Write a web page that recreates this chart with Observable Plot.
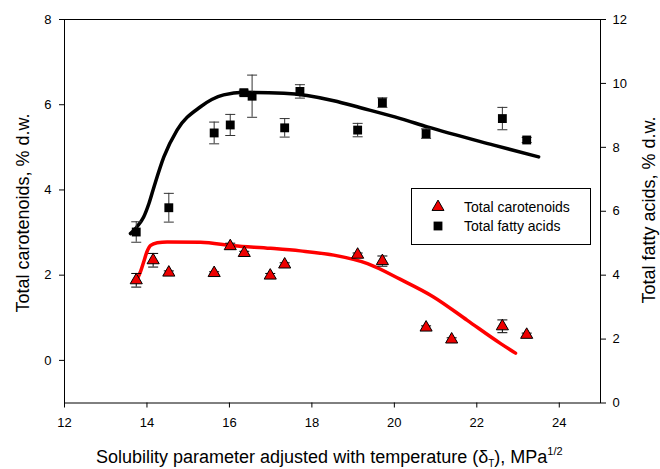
<!DOCTYPE html>
<html><head><meta charset="utf-8">
<script src="https://cdn.jsdelivr.net/npm/d3@7"></script>
<script src="https://cdn.jsdelivr.net/npm/@observablehq/plot@0.6"></script>
<style>body{margin:0;background:#fff} #chart{position:relative;width:660px;height:469px}</style>
</head><body><div id="chart"></div>
<script>
// ---- data ----
const xTicks = [12, 14, 16, 18, 20, 22, 24];
const leftTicks = [0, 2, 4, 6, 8];
const rightTicks = [0, 2, 4, 6, 8, 10, 12];

// Total carotenoids (% d.w., left axis)
const carotX   = [13.74, 14.15, 14.53, 15.63, 16.02, 16.36, 16.99, 17.34, 19.11, 19.71, 20.77, 21.39, 22.62, 23.21];
const carotY   = [1.88, 2.35, 2.06, 2.05, 2.68, 2.52, 1.99, 2.25, 2.48, 2.33, 0.77, 0.49, 0.80, 0.60];
const carotErr = [0.16, 0.16, 0.04, 0.03, 0.07, 0.04, 0.05, 0.04, 0.04, 0.12, 0.04, 0.04, 0.15, 0.04];

// Total fatty acids (% d.w., right axis)
const fattyX   = [13.74, 14.53, 15.63, 16.02, 16.35, 16.55, 17.34, 17.71, 19.11, 19.71, 20.77, 22.62, 23.21];
const fattyY   = [5.35, 6.11, 8.45, 8.70, 9.71, 9.60, 8.61, 9.75, 8.54, 9.40, 8.43, 8.90, 8.23];
const fattyErr = [0.32, 0.45, 0.34, 0.33, 0.08, 0.66, 0.29, 0.21, 0.21, 0.15, 0.15, 0.35, 0.08];

// Fitted curves
const redCurveX = [13.75, 13.85, 13.92, 14.0, 14.09, 14.25, 14.49, 15.3, 16.1, 17.0, 17.72, 18.53, 19.35, 20.15, 20.95, 21.77, 22.57, 22.94];
const redCurveY = [1.88, 2.10, 2.31, 2.55, 2.70, 2.76, 2.78, 2.77, 2.69, 2.63, 2.57, 2.47, 2.27, 1.90, 1.49, 0.94, 0.40, 0.17];
const blackCurveX = [13.60, 13.75, 13.92, 14.05, 14.17, 14.41, 14.73, 15.30, 15.86, 16.35, 17.32, 18.53, 19.18, 20.15, 20.80, 22.41, 23.50];
const blackCurveY = [5.30, 5.50, 5.82, 6.25, 6.76, 7.70, 8.54, 9.27, 9.64, 9.72, 9.69, 9.46, 9.24, 8.90, 8.64, 8.07, 7.70];

const seriesNames = ["Total carotenoids", "Total fatty acids"];

// right axis [0,12] maps onto left axis [-1,8]
const toLeft = r => r * 0.75 - 1;
const fromLeft = l => Math.round((l + 1) / 0.75);

const carot = carotX.map((x, i) => ({x, y: carotY[i], lo: carotY[i] - carotErr[i], hi: carotY[i] + carotErr[i]}));
const fatty = fattyX.map((x, i) => ({x, y: toLeft(fattyY[i]), lo: toLeft(fattyY[i] - fattyErr[i]), hi: toLeft(fattyY[i] + fattyErr[i])}));
const redCurve = redCurveX.map((x, i) => ({x, y: redCurveY[i]}));
const blackCurve = blackCurveX.map((x, i) => ({x, y: toLeft(blackCurveY[i])}));

const cap = {draw(ctx) { ctx.moveTo(-5, 0); ctx.lineTo(5, 0); }};
const errStroke = "#333";

const svg = Plot.plot({
  width: 660, height: 469,
  marginLeft: 64, marginRight: 60, marginTop: 19, marginBottom: 66.5,
  style: {fontFamily: "'Liberation Sans', Arial, sans-serif", fontSize: "13px", background: "white", color: "black"},
  x: {domain: [12, 25], label: null},
  y: {domain: [-1, 8], label: null},
  marks: [
    Plot.frame({stroke: "black", strokeWidth: 1}),
    Plot.axisX({ticks: xTicks, tickSize: 5, tickPadding: 10, label: null}),
    Plot.axisY({ticks: leftTicks, tickSize: 5, tickPadding: 8, label: null}),
    Plot.axisY({anchor: "right", ticks: rightTicks.map(toLeft), tickFormat: fromLeft, tickSize: 5, tickPadding: 7, label: null}),
    Plot.line(blackCurve, {x: "x", y: "y", stroke: "black", strokeWidth: 3.5, curve: "monotone-x"}),
    Plot.line(redCurve, {x: "x", y: "y", stroke: "#ff0000", strokeWidth: 3.5, curve: "monotone-x"}),
    Plot.ruleX(fatty, {x: "x", y1: "lo", y2: "hi", stroke: errStroke, strokeWidth: 1}),
    Plot.dot(fatty, {x: "x", y: "lo", symbol: cap, stroke: errStroke, fill: "none", strokeWidth: 1}),
    Plot.dot(fatty, {x: "x", y: "hi", symbol: cap, stroke: errStroke, fill: "none", strokeWidth: 1}),
    Plot.ruleX(carot, {x: "x", y1: "lo", y2: "hi", stroke: "black", strokeWidth: 1}),
    Plot.dot(carot, {x: "x", y: "lo", symbol: cap, stroke: "black", fill: "none", strokeWidth: 1}),
    Plot.dot(carot, {x: "x", y: "hi", symbol: cap, stroke: "black", fill: "none", strokeWidth: 1}),
    Plot.dot(fatty, {x: "x", y: "y", symbol: "square", r: 5, fill: "black", stroke: "none"}),
    Plot.dot(carot, {x: "x", y: "y", symbol: "triangle", r: 4.5, fill: "#ee0000", stroke: "black", strokeWidth: 1})
  ]
});

const s = d3.select(svg);
const font = "'Liberation Sans', Arial, sans-serif";
// x title
const xt = s.append("text").attr("x", 96).attr("y", 463).attr("text-anchor", "start")
  .attr("font-size", 18).attr("font-family", font).attr("fill", "black");
xt.append("tspan").text("Solubility parameter adjusted with temperature (δ");
xt.append("tspan").attr("font-size", 10).attr("dy", 4).text("T");
xt.append("tspan").attr("dy", -4).text("), MPa");
xt.append("tspan").attr("font-size", 11).attr("dy", -8).text("1/2");
// y titles
s.append("text").attr("transform", "translate(29,213) rotate(-90)").attr("text-anchor", "middle")
  .attr("font-size", 18).attr("font-family", font).attr("fill", "black").text("Total carotenoids, % d.w.");
s.append("text").attr("transform", "translate(655,210) rotate(-90)").attr("text-anchor", "middle")
  .attr("font-size", 18).attr("font-family", font).attr("fill", "black").text("Total fatty acids, % d.w.");
// legend
const lg = s.append("g");
lg.append("rect").attr("x", 411.5).attr("y", 188.5).attr("width", 179).attr("height", 56).attr("fill", "white").attr("stroke", "black");
lg.append("path").attr("d", d3.symbol(d3.symbolTriangle, 62)()).attr("transform", "translate(438,207)").attr("fill", "#ee0000").attr("stroke", "black");
lg.append("path").attr("d", d3.symbol(d3.symbolSquare, 78)()).attr("transform", "translate(438,226)").attr("fill", "black");
lg.append("text").attr("x", 464).attr("y", 212).attr("text-anchor", "start").attr("font-size", 14).attr("font-family", font).attr("fill", "black").text(seriesNames[0]);
lg.append("text").attr("x", 464).attr("y", 231).attr("text-anchor", "start").attr("font-size", 14).attr("font-family", font).attr("fill", "black").text(seriesNames[1]);

document.getElementById("chart").appendChild(svg);
</script>
</body></html>
